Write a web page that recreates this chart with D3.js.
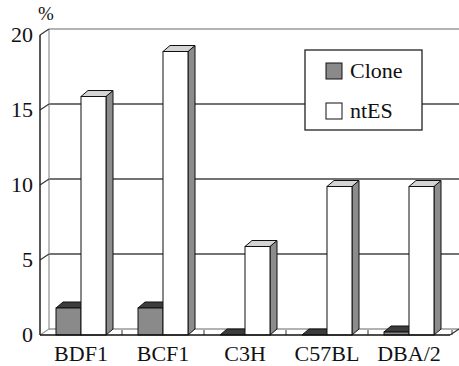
<!DOCTYPE html>
<html>
<head>
<meta charset="utf-8">
<script src="https://cdn.jsdelivr.net/npm/d3@7/dist/d3.min.js"></script>
<style>
  html, body { margin: 0; padding: 0; background: #fff; }
  svg { display: block; }
</style>
</head>
<body>
<svg id="chart" width="459" height="366"></svg>
<script>
// Strains on the x axis
const categories = ["BDF1", "BCF1", "C3H", "C57BL", "DBA/2"];
// Percentages per strain
const cloneValues = [1.8, 1.8, 0, 0, 0.2];
const ntesValues = [15.9, 18.9, 5.9, 9.9, 9.9];
const seriesNames = ["Clone", "ntES"];
const yTicks = [0, 5, 10, 15, 20];

const FONT = '"Liberation Serif", Tinos';

const svg = d3.select("#chart");

// Oblique 3D projection offsets
const wallDx = 9, wallDy = -6;   // depth of the walls / floor
const barDx = 7, barDy = -6;     // depth of each column

const x = d3.scaleBand().domain(categories).range([40, 450]).padding(0);
const y = d3.scaleLinear().domain([0, 20]).range([335, 35]);
const sub = d3.scaleBand().domain(seriesNames).range([-25, 25]).padding(0);

const fills = {
  Clone: { front: "#8a8a8a", top: "#3c3c3c", side: "#6e6e6e" },
  ntES:  { front: "#ffffff", top: "#d4d4d4", side: "#8c8c8c" }
};

const x0 = x.range()[0], x1 = x.range()[1];
const y0 = y(0);

// Back wall gridlines
svg.append("g").selectAll("line.grid")
  .data(yTicks.filter(t => t > 0))
  .join("line")
  .attr("x1", x0 + wallDx).attr("x2", 459)
  .attr("y1", d => y(d) + wallDy).attr("y2", d => y(d) + wallDy)
  .attr("stroke", d => d === 20 ? "#9a9a9a" : "#444")
  .attr("stroke-width", 1.3);

// Side wall: back edge and diagonal tick lines
svg.append("line")
  .attr("x1", x0 + wallDx).attr("x2", x0 + wallDx)
  .attr("y1", y(20) + wallDy).attr("y2", y0 + wallDy)
  .attr("stroke", "#9a9a9a").attr("stroke-width", 1.3);
svg.append("g").selectAll("line.diag")
  .data(yTicks)
  .join("line")
  .attr("x1", x0).attr("y1", d => y(d))
  .attr("x2", x0 + wallDx).attr("y2", d => y(d) + wallDy)
  .attr("stroke", d => d === 0 ? "#9a9a9a" : "#333").attr("stroke-width", 1.2);

// Floor
svg.append("line")
  .attr("x1", x0 + wallDx).attr("x2", 459)
  .attr("y1", y0 + wallDy).attr("y2", y0 + wallDy)
  .attr("stroke", "#666").attr("stroke-width", 1.2);
svg.append("line")
  .attr("x1", x1).attr("y1", y0)
  .attr("x2", x1 + wallDx).attr("y2", y0 + wallDy)
  .attr("stroke", "#333").attr("stroke-width", 1.2);
svg.append("g").selectAll("line.ftick")
  .data(categories.slice(1).map(c => x(c)).concat([x1 + 2]))
  .join("line")
  .attr("x1", d => d).attr("x2", d => d)
  .attr("y1", y0 + wallDy + 1).attr("y2", y0)
  .attr("stroke", "#333").attr("stroke-width", 1);

// Front value axis
svg.append("line")
  .attr("x1", x0).attr("x2", x0)
  .attr("y1", y(20)).attr("y2", y0)
  .attr("stroke", "#222").attr("stroke-width", 1.5);

// Columns
function drawColumn(g, cx, w, v, f) {
  const l = cx, r = cx + w, t = y(v);
  g.append("path")
    .attr("d", `M${r},${t}L${r + barDx},${t + barDy}L${r + barDx},${y0 + barDy}L${r},${y0}Z`)
    .attr("fill", f.side).attr("stroke", "#111").attr("stroke-width", 1).attr("stroke-linejoin", "round");
  g.append("path")
    .attr("d", `M${l},${t}L${l + barDx},${t + barDy}L${r + barDx},${t + barDy}L${r},${t}Z`)
    .attr("fill", f.top).attr("stroke", "#111").attr("stroke-width", 1).attr("stroke-linejoin", "round");
  g.append("rect")
    .attr("x", l).attr("y", t).attr("width", w).attr("height", y0 - t)
    .attr("fill", f.front).attr("stroke", "#111").attr("stroke-width", 1);
}

const bars = svg.append("g");
categories.forEach((c, i) => {
  const center = x(c) + x.bandwidth() / 2;
  drawColumn(bars, center + sub("Clone"), sub.bandwidth(), cloneValues[i], fills.Clone);
  drawColumn(bars, center + sub("ntES"), sub.bandwidth(), ntesValues[i], fills.ntES);
});

// Front floor edge
svg.append("line")
  .attr("x1", x0).attr("x2", x1)
  .attr("y1", y0).attr("y2", y0)
  .attr("stroke", "#111").attr("stroke-width", 1.5);

// Tick labels
svg.append("g").selectAll("text.ylab")
  .data(yTicks)
  .join("text")
  .attr("x", 33).attr("y", d => y(d) + 7)
  .attr("text-anchor", "end")
  .style("font-family", FONT)
  .style("font-size", "22px")
  .attr("fill", "#111")
  .text(d => d);

svg.append("text")
  .attr("x", 46).attr("y", 20)
  .attr("text-anchor", "middle")
  .style("font-family", FONT)
  .style("font-size", "19px")
  .attr("fill", "#111")
  .text("%");

svg.append("g").selectAll("text.xlab")
  .data(categories)
  .join("text")
  .attr("x", d => x(d) + x.bandwidth() / 2)
  .attr("y", 361)
  .attr("text-anchor", "middle")
  .style("font-family", FONT)
  .style("font-size", "22px")
  .attr("fill", "#111")
  .text(d => d);

// Legend
const legend = svg.append("g");
legend.append("rect")
  .attr("x", 305).attr("y", 50).attr("width", 117).attr("height", 80)
  .attr("fill", "#fff").attr("stroke", "#222").attr("stroke-width", 1.3);
seriesNames.forEach((s, i) => {
  const yy = 63 + i * 40;
  legend.append("rect")
    .attr("x", 326).attr("y", yy).attr("width", 16).attr("height", 16)
    .attr("fill", fills[s].front).attr("stroke", "#111").attr("stroke-width", 1);
  legend.append("text")
    .attr("x", 350).attr("y", yy + 15)
    .style("font-family", FONT)
    .style("font-size", "22px")
    .attr("fill", "#111")
    .text(s);
});
</script>
</body>
</html>
